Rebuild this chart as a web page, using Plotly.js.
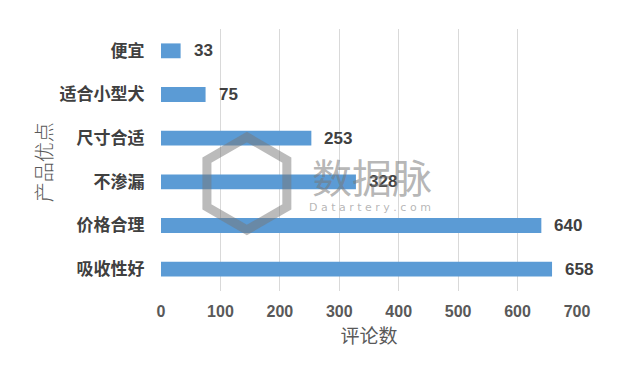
<!DOCTYPE html>
<html><head><meta charset="utf-8">
<script src="https://cdn.plot.ly/plotly-3.0.1.min.js"></script>
<style>html,body{margin:0;padding:0;background:#fff}#c{width:640px;height:372px}</style>
</head><body><div id="c"></div>
<script>
const categories = ['吸收性好','价格合理','不渗漏','尺寸合适','适合小型犬','便宜'];
const reviewCounts = [658, 640, 328, 253, 75, 33];
const tickValues = [0,100,200,300,400,500,600,700];

const L=161, R=577.5, T=29, B=291;
function px(x){return (x-L)/(R-L);}
function py(y){return (B-y)/(B-T);}
const hex=[[247,137],[287,160],[287,207],[247,230],[207,207],[207,160]];
const hexPath='M'+hex.map(p=>px(p[0]).toFixed(4)+','+py(p[1]).toFixed(4)).join(' L')+' Z';

const annotations = categories.map((c,i)=>({
  x: reviewCounts[i], y: c, xref:'x', yref:'y', text: String(reviewCounts[i]),
  showarrow:false, xanchor:'left', xshift:11,
  font:{family:'Liberation Sans, Arial, sans-serif', size:17, color:'#404040', weight:'bold'}
}));
annotations.push({x:px(372), y:py(176), xref:'paper', yref:'paper', text:'数据脉', showarrow:false,
  xanchor:'center', yanchor:'middle',
  font:{family:'Noto Sans CJK SC', size:40, color:'rgba(120,120,120,0.55)'}});
annotations.push({x:px(370), y:py(207), xref:'paper', yref:'paper', text:'D a t a r t e r y . c o m', showarrow:false,
  xanchor:'center', yanchor:'middle',
  font:{family:'DejaVu Sans', size:11, color:'rgba(120,120,120,0.55)'}});
annotations.push({x:px(43), y:py(162), xref:'paper', yref:'paper', text:'产品优点', showarrow:false, textangle:-90,
  xanchor:'center', yanchor:'middle',
  font:{family:'Noto Sans CJK SC', size:20, color:'#595959', weight:300}});

Plotly.newPlot('c', [{
  type:'bar', orientation:'h', x: reviewCounts, y: categories,
  marker:{color:'#5b9bd5'}, hoverinfo:'none'
}], {
  width:640, height:372,
  margin:{l:L, r:640-R, t:T, b:372-B},
  paper_bgcolor:'#fff', plot_bgcolor:'#fff',
  bargap:0.66, showlegend:false,
  xaxis:{range:[0,700], tickvals:tickValues, showgrid:true, gridcolor:'#d9d9d9', gridwidth:1,
    zeroline:false, showline:false, ticks:'outside', ticklen:6, tickcolor:'rgba(0,0,0,0)', fixedrange:true,
    tickfont:{family:'Liberation Sans, Arial, sans-serif', size:16, color:'#595959', weight:'bold'},
    title:{text:'评论数', standoff:10, font:{family:'Noto Sans CJK SC', size:19, color:'#595959'}}},
  yaxis:{type:'category', categoryorder:'array', categoryarray:categories, range:[-0.5,5.5],
    showgrid:false, zeroline:false, showline:false, ticks:'outside', ticklen:12, tickcolor:'rgba(0,0,0,0)',
    tickfont:{family:'Noto Sans CJK SC', size:17, color:'#404040', weight:'bold'}},
  shapes:[{type:'path', xref:'paper', yref:'paper', path:hexPath, layer:'above',
    line:{color:'rgba(120,120,120,0.5)', width:9}}],
  annotations: annotations
}, {displayModeBar:false, staticPlot:true});
</script></body></html>
